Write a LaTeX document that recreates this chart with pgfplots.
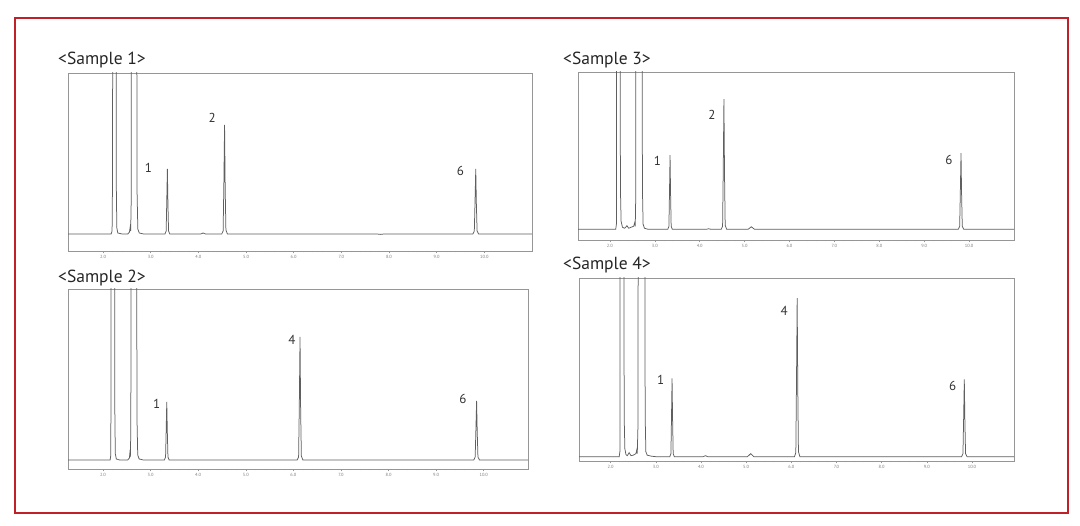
\documentclass[border=0pt]{standalone}
\usepackage{pgfplots}
\pgfplotsset{compat=1.18}
\usepackage{fontspec}
\setmainfont{PT Sans}
\definecolor{frame}{RGB}{192,32,40}
\definecolor{trace}{RGB}{95,95,95}
\definecolor{boxc}{RGB}{150,150,150}
\pgfplotsset{chrom/.style={
  scale only axis, anchor=north west,
  axis line style={draw=boxc, line width=0.7pt},
  xtick={2,...,10}, minor x tick num=4, ytick=\empty,
  xtick pos=left, tick align=outside,
  major tick length=2.5pt, minor tick length=1.5pt,
  every tick/.style={draw=boxc, line width=0.5pt},
  xticklabel style={font=\fontsize{4.5}{5}\selectfont, text=gray, inner sep=1.5pt,
    /pgf/number format/.cd, fixed, fixed zerofill, precision=1, assume math mode=true},
  clip=true,
}}
\tikzset{
trc/.style={color=trace, line width=0.75pt, mark=none, sharp plot},
lab/.style={font=\fontsize{13}{13}\selectfont, text=black!80},
ttl/.style={font=\fontsize{17.5}{17.5}\selectfont, text=black!85, anchor=west, inner sep=0pt},
mn/.style={font=\fontsize{4.5}{5}\selectfont, text=gray, anchor=north, yshift=-1.5pt}
}
\begin{document}
\begin{tikzpicture}
\fill[white] (0pt,0pt) rectangle (1080pt,526pt);
\draw[frame, line width=2pt] (15pt,508pt) rectangle (1068pt,13pt);

\node[ttl] at (58pt,466pt) {<Sample 1>};
\node[ttl] at (58pt,248pt) {<Sample 2>};
\node[ttl] at (563pt,466pt) {<Sample 3>};
\node[ttl] at (563pt,261pt) {<Sample 4>};

% Sample 1
\begin{axis}[chrom, at={(68pt,453pt)}, width=464pt, height=178pt,
  xmin=1.265, xmax=11.0, ymin=-17, ymax=161]
\addplot[trc] coordinates {(1.265,0) (2.17,0) (2.19,3) (2.20,60) (2.205,400) (2.27,400) (2.28,40) (2.29,6) (2.31,1) (2.40,0) (2.52,0) (2.555,2) (2.57,7) (2.58,3) (2.59,30) (2.60,400) (2.70,400) (2.715,40) (2.73,5) (2.76,1) (2.85,0) (3.30,0) (3.325,3) (3.338,35) (3.35,65) (3.362,30) (3.375,3) (3.40,0) (4.05,0) (4.10,1) (4.15,0) (4.49,0) (4.52,3) (4.535,50) (4.55,109) (4.563,45) (4.578,4) (4.61,0) (7.75,0) (7.82,-0.4) (7.9,0) (9.76,0) (9.79,3) (9.805,33) (9.82,65) (9.833,30) (9.848,3) (9.88,0) (11,0)};
\node[lab] at (axis cs:2.95,66) {1};
\node[lab] at (axis cs:4.29,116) {2};
\node[lab] at (axis cs:9.50,63) {6};
\node[mn] at (rel axis cs:0.985,0) {min};
\end{axis}

% Sample 2
\begin{axis}[chrom, at={(68pt,237pt)}, width=460pt, height=180pt,
  xmin=1.265, xmax=10.93, ymin=-9, ymax=171]
\addplot[trc] coordinates {(1.265,0) (2.15,0) (2.165,5) (2.175,400) (2.24,400) (2.25,40) (2.26,6) (2.28,1) (2.35,0) (2.52,0) (2.555,2) (2.565,7) (2.575,3) (2.585,30) (2.595,400) (2.70,400) (2.715,40) (2.73,5) (2.76,1) (2.85,0) (3.29,0) (3.315,3) (3.328,30) (3.34,58) (3.352,28) (3.365,3) (3.39,0) (6.08,0) (6.11,3) (6.125,55) (6.14,123) (6.153,50) (6.168,4) (6.20,0) (9.79,0) (9.82,3) (9.835,30) (9.85,59) (9.863,28) (9.878,3) (9.91,0) (10.93,0)};
\node[lab] at (axis cs:3.13,56) {1};
\node[lab] at (axis cs:5.97,120) {4};
\node[lab] at (axis cs:9.56,61) {6};
\node[mn] at (rel axis cs:0.987,0) {min};
\end{axis}

% Sample 3
\begin{axis}[chrom, at={(578pt,454pt)}, width=436pt, height=168pt,
  xmin=1.29, xmax=11.0, ymin=-10.7, ymax=157]
\addplot[trc] coordinates {(1.29,0) (2.13,0) (2.145,5) (2.155,400) (2.22,400) (2.235,40) (2.25,8) (2.28,2) (2.33,1) (2.38,3.5) (2.42,1) (2.47,2) (2.53,3) (2.555,7) (2.565,3) (2.575,30) (2.585,400) (2.71,400) (2.725,40) (2.74,5) (2.77,1) (2.85,0) (3.29,0) (3.315,3) (3.328,38) (3.34,74) (3.352,35) (3.365,3) (3.39,0) (4.15,0) (4.2,0.5) (4.25,0) (4.48,0) (4.51,3) (4.525,60) (4.54,130) (4.553,55) (4.568,4) (4.60,0) (5.08,0) (5.15,2.5) (5.22,0) (9.76,0) (9.79,3) (9.805,38) (9.82,76) (9.833,35) (9.848,3) (9.88,0) (11,0)};
\node[lab] at (axis cs:3.06,68) {1};
\node[lab] at (axis cs:4.27,114) {2};
\node[lab] at (axis cs:9.55,69) {6};
\node[mn] at (rel axis cs:0.989,0) {min};
\end{axis}

% Sample 4
\begin{axis}[chrom, at={(579pt,248pt)}, width=435pt, height=183pt,
  xmin=1.30, xmax=10.93, ymin=-4.3, ymax=178]
\addplot[trc] coordinates {(1.30,0) (2.19,0) (2.205,5) (2.215,400) (2.29,400) (2.30,40) (2.315,8) (2.34,2) (2.37,1) (2.41,4) (2.45,1) (2.50,1.5) (2.56,3) (2.58,7) (2.59,3) (2.605,30) (2.615,400) (2.75,400) (2.765,40) (2.78,5) (2.81,1.5) (2.9,0.5) (3.0,0) (3.31,0) (3.335,3) (3.348,40) (3.36,78) (3.372,37) (3.385,3) (3.41,0) (4.05,0) (4.1,1) (4.15,0) (5.03,0) (5.1,3) (5.17,0) (6.07,0) (6.10,4) (6.115,75) (6.13,158) (6.143,70) (6.158,5) (6.19,0) (9.77,0) (9.80,3) (9.815,38) (9.83,77) (9.843,35) (9.858,3) (9.89,0) (10.93,0)};
\node[lab] at (axis cs:3.11,77) {1};
\node[lab] at (axis cs:5.84,145) {4};
\node[lab] at (axis cs:9.57,70) {6};
\node[mn] at (rel axis cs:0.991,0) {min};
\end{axis}
\end{tikzpicture}
\end{document}
